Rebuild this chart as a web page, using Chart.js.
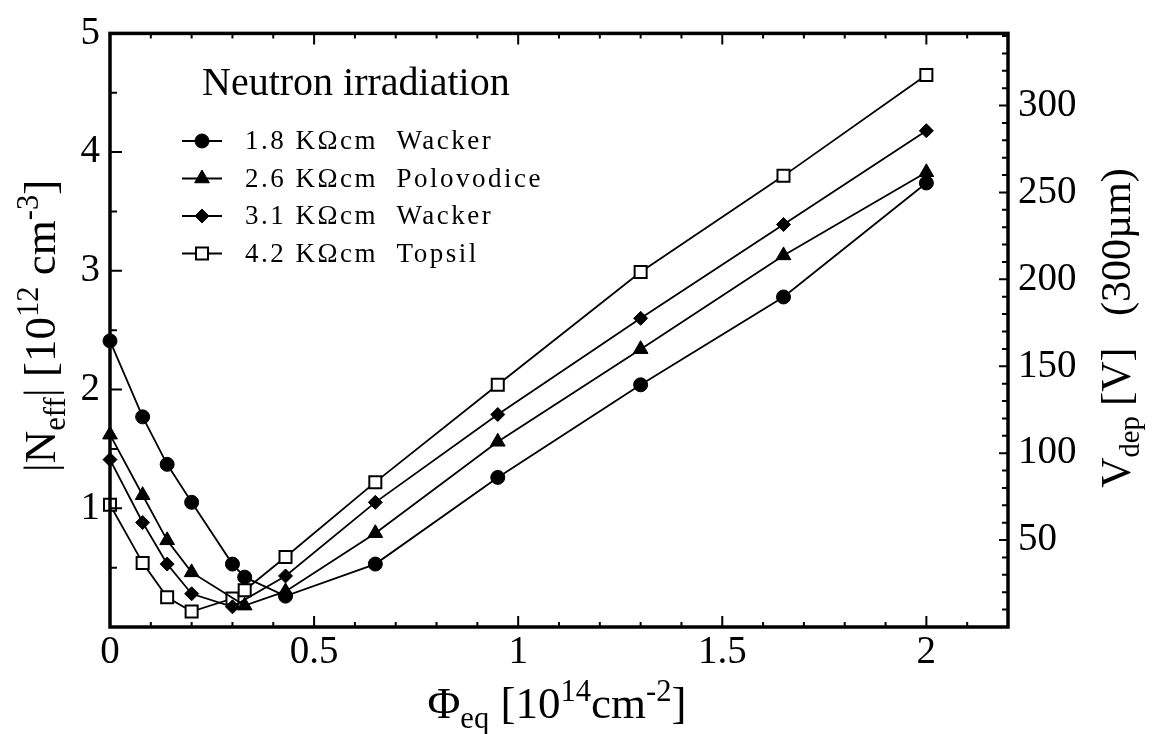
<!DOCTYPE html>
<html lang="en">
<head>
<meta charset="UTF-8">
<title>|Neff| vs fluence - neutron irradiation</title>
<style>
  body { margin: 0; background: #fff; }
  #wrap { width: 1155px; height: 734px; }
</style>
</head>
<body>
<div id="wrap"><canvas id="neffChart" width="1155" height="734"></canvas></div>
<script src="https://cdn.jsdelivr.net/npm/chart.js"></script>
<script>
// values: fluence in 1e14 cm^-2, |Neff| in 1e12 cm^-3
const fluenceW18 = [0, 0.08, 0.14, 0.2, 0.3, 0.33, 0.43, 0.65, 0.95, 1.3, 1.65, 2];
const neffW18 = [2.41, 1.77, 1.37, 1.05, 0.53, 0.42, 0.26, 0.53, 1.26, 2.04, 2.78, 3.74];

const fluenceP26 = [0, 0.08, 0.14, 0.2, 0.33, 0.43, 0.65, 0.95, 1.3, 1.65, 2];
const neffP26 = [1.62, 1.11, 0.73, 0.46, 0.18, 0.3, 0.79, 1.56, 2.34, 3.13, 3.83];

const fluenceW31 = [0, 0.08, 0.14, 0.2, 0.3, 0.43, 0.65, 0.95, 1.3, 1.65, 2];
const neffW31 = [1.41, 0.88, 0.53, 0.28, 0.17, 0.43, 1.05, 1.79, 2.6, 3.39, 4.18];

const fluenceT42 = [0, 0.08, 0.14, 0.2, 0.3, 0.33, 0.43, 0.65, 0.95, 1.3, 1.65, 2];
const neffT42 = [1.03, 0.54, 0.25, 0.13, 0.24, 0.31, 0.59, 1.22, 2.04, 2.99, 3.8, 4.65];

const seriesLabels = ['1.8 K\u03A9cm  Wacker', '2.6 K\u03A9cm  Polovodice', '3.1 K\u03A9cm  Wacker', '4.2 K\u03A9cm  Topsil'];

const xTicks = [0, 0.5, 1, 1.5, 2];
const yTicks = [1, 2, 3, 4, 5];
const vdepTicks = [50, 100, 150, 200, 250, 300];

const FONT = "'Liberation Serif', 'Times New Roman', 'DejaVu Serif', serif";
const VDEP_MAX = 341.5; // depletion voltage for |Neff| = 5e12 at 300um

function pts(xs, ys) {
  return xs.map((x, i) => ({ x: x, y: ys[i] }));
}

function series(label, xs, ys, style, radius, fill, bw) {
  return {
    label: label,
    data: pts(xs, ys),
    borderColor: '#000',
    borderWidth: 1.8,
    pointStyle: style,
    pointRadius: radius,
    pointHoverRadius: radius,
    pointBackgroundColor: fill,
    pointBorderColor: '#000',
    pointBorderWidth: bw,
    tension: 0,
    clip: false
  };
}

function drawRich(ctx, parts, x, y, size) {
  const small = size * 0.68;
  let w = 0;
  parts.forEach(p => {
    ctx.font = (p[1] ? small : size) + 'px ' + FONT;
    w += ctx.measureText(p[0]).width;
  });
  let cx = x - w / 2;
  parts.forEach(p => {
    ctx.font = (p[1] ? small : size) + 'px ' + FONT;
    const dy = p[1] === 1 ? size * 0.22 : (p[1] === 2 ? -size * 0.38 : 0);
    ctx.fillText(p[0], cx, y + dy);
    cx += ctx.measureText(p[0]).width;
  });
}

function marker(ctx, style, x, y, r, fill) {
  ctx.beginPath();
  if (style === 'circle') {
    ctx.arc(x, y, r, 0, Math.PI * 2);
  } else if (style === 'triangle') {
    ctx.moveTo(x, y - r);
    ctx.lineTo(x + r * 0.866, y + r / 2);
    ctx.lineTo(x - r * 0.866, y + r / 2);
    ctx.closePath();
  } else if (style === 'rectRot') {
    ctx.moveTo(x - r, y); ctx.lineTo(x, y - r);
    ctx.lineTo(x + r, y); ctx.lineTo(x, y + r);
    ctx.closePath();
  } else {
    const s = r * Math.SQRT1_2;
    ctx.rect(x - s, y - s, 2 * s, 2 * s);
  }
  ctx.fillStyle = fill;
  ctx.fill();
  ctx.stroke();
}

const frame = {
  id: 'frame',
  afterDraw(chart) {
    const { ctx, chartArea: a, scales } = chart;
    ctx.save();
    ctx.strokeStyle = '#000';
    ctx.fillStyle = '#000';

    // inward tick marks, bottom + top
    ctx.lineWidth = 2;
    ctx.beginPath();
    for (let i = 1; i <= 22; i++) {
      const px = scales.x.getPixelForValue(i / 10);
      const len = i % 5 === 0 ? 11 : 5;
      ctx.moveTo(px, a.bottom); ctx.lineTo(px, a.bottom - len);
      ctx.moveTo(px, a.top); ctx.lineTo(px, a.top + len);
    }
    // left axis
    for (let i = 1; i < 10; i++) {
      const py = scales.y.getPixelForValue(i / 2);
      const len = i % 2 === 0 ? 12 : 7;
      ctx.moveTo(a.left, py); ctx.lineTo(a.left + len, py);
    }
    // right axis (V)
    for (let v = 10; v < VDEP_MAX; v += 10) {
      const py = scales.y2.getPixelForValue(v);
      const len = v % 50 === 0 ? 9 : 6;
      ctx.moveTo(a.right, py); ctx.lineTo(a.right - len, py);
    }
    ctx.stroke();

    ctx.lineWidth = 3.5;
    ctx.strokeRect(a.left, a.top, a.right - a.left, a.bottom - a.top);

    // axis titles
    ctx.textAlign = 'left';
    ctx.textBaseline = 'alphabetic';
    drawRich(ctx, [['\u03A6', 0], ['eq', 1], [' [10', 0], ['14', 2], ['cm', 0], ['-2', 2], [']', 0]], 557, 718, 45);

    ctx.save();
    ctx.translate(55, 326);
    ctx.rotate(-Math.PI / 2);
    drawRich(ctx, [['|N', 0], ['eff', 1], ['| [10', 0], ['12', 2], [' cm', 0], ['-3', 2], [']', 0]], 0, 0, 45);
    ctx.restore();

    ctx.save();
    ctx.translate(1130, 328);
    ctx.rotate(-Math.PI / 2);
    drawRich(ctx, [['V', 0], ['dep', 1], [' [V]   (300\u00B5m)', 0]], 0, 0, 42);
    ctx.restore();

    // legend
    ctx.font = '40px ' + FONT;
    ctx.fillText('Neutron irradiation', 202, 95);
    ctx.font = '27px ' + FONT;
    if ('letterSpacing' in ctx) ctx.letterSpacing = '2.5px';
    chart.data.datasets.forEach((ds, i) => {
      const y = 141 + i * 37.5;
      ctx.lineWidth = 1.8;
      ctx.beginPath();
      ctx.moveTo(182, y); ctx.lineTo(222, y);
      ctx.stroke();
      ctx.lineWidth = ds.pointBorderWidth;
      marker(ctx, ds.pointStyle, 202, y, ds.pointRadius, ds.pointBackgroundColor);
      ctx.fillStyle = '#000';
      ctx.textBaseline = 'middle';
      ctx.fillText(ds.label, 245, y + 1);
    });
    ctx.restore();
  }
};

const tickFont = { family: FONT, size: 39 };

new Chart(document.getElementById('neffChart'), {
  type: 'line',
  data: {
    datasets: [
      series(seriesLabels[0], fluenceW18, neffW18, 'circle', 7, '#000', 1),
      series(seriesLabels[1], fluenceP26, neffP26, 'triangle', 8.5, '#000', 1),
      series(seriesLabels[2], fluenceW31, neffW31, 'rectRot', 7, '#000', 1),
      series(seriesLabels[3], fluenceT42, neffT42, 'rect', 8.5, '#fff', 2)
    ]
  },
  options: {
    responsive: false,
    animation: false,
    events: [],
    layout: { padding: { top: 27, left: 0, right: 0, bottom: 0 } },
    plugins: { legend: { display: false }, tooltip: { enabled: false } },
    scales: {
      x: {
        type: 'linear',
        min: 0,
        max: 2.2,
        grid: { display: false, drawTicks: false },
        border: { display: false },
        afterFit: s => { s.height = 107; },
        afterBuildTicks: s => { s.ticks = xTicks.map(v => ({ value: v })); },
        ticks: {
          autoSkip: false,
          maxRotation: 0,
          padding: 2,
          color: '#000',
          font: tickFont,
          callback: v => String(v)
        }
      },
      y: {
        position: 'left',
        min: 0,
        max: 5,
        grid: { display: false, drawTicks: false },
        border: { display: false },
        afterFit: s => { s.width = 110; },
        afterBuildTicks: s => { s.ticks = yTicks.map(v => ({ value: v })); },
        ticks: {
          padding: 10,
          color: '#000',
          font: tickFont,
          callback: v => String(v)
        }
      },
      y2: {
        position: 'right',
        min: 0,
        max: VDEP_MAX,
        grid: { display: false, drawTicks: false },
        border: { display: false },
        afterFit: s => { s.width = 147; },
        afterBuildTicks: s => { s.ticks = vdepTicks.map(v => ({ value: v })); },
        ticks: {
          padding: 10,
          color: '#000',
          font: tickFont,
          callback: v => String(v)
        }
      }
    }
  },
  plugins: [frame]
});
</script>
</body>
</html>
